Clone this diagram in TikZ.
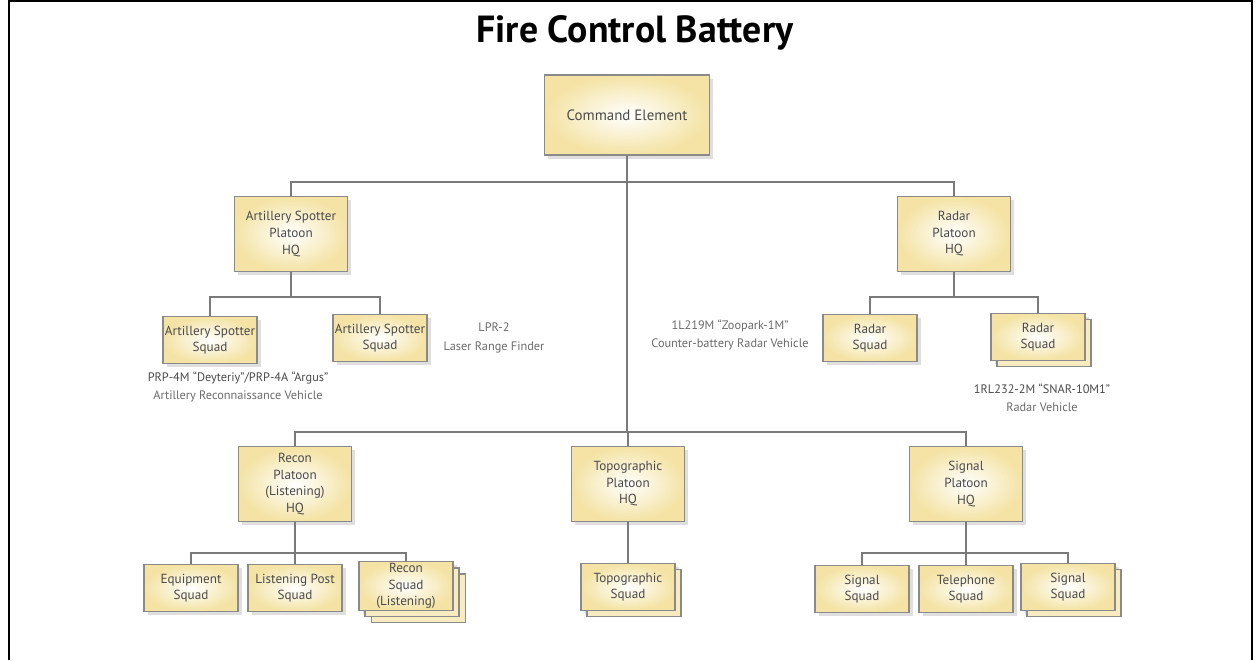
\documentclass[tikz,border=0pt]{standalone}
\usepackage{fontspec}
\setmainfont{PT Sans}
\usetikzlibrary{shadows}

\definecolor{boxfill}{HTML}{F4E3A4}
\definecolor{boxline}{HTML}{8A8A8A}
\definecolor{boxtext}{HTML}{4A4A4A}
\definecolor{linkgray}{HTML}{7A7A7A}
\definecolor{notegray}{HTML}{6A6A6A}

\tikzset{
  unit/.style={draw=boxline, line width=0.9pt, shading=radial, inner color=white,
    outer color=boxfill, text=boxtext, align=center,
    font=\fontsize{7.5}{9.4}\selectfont,
    drop shadow={opacity=0.25, shadow xshift=2pt, shadow yshift=-2pt}},
  hq/.style={unit, minimum width=2.26cm, minimum height=1.5cm},
  squad/.style={unit, minimum width=1.88cm, minimum height=0.94cm, inner sep=1pt},
  stack/.style={copy shadow={shadow xshift=3.5pt, shadow yshift=-3.5pt,
    fill=boxfill!70, draw=boxline, line width=0.9pt}},
  stacktwo/.style={copy shadow={shadow xshift=7pt, shadow yshift=-7pt,
    fill=boxfill!70, draw=boxline, line width=0.9pt}, stack},
  link/.style={draw=linkgray, line width=0.8pt},
  note/.style={align=center, text=notegray, font=\fontsize{7}{10.5}\selectfont}
}

\begin{document}
\begin{tikzpicture}[x=0.02cm, y=-0.02cm]
  \useasboundingbox (0,0) rectangle (1257,660);
  % frame and title
  \draw[line width=1.2pt] (9,660) -- (9,1) -- (1252,1) -- (1252,660);
  \node (title) at (635,33) {\fontsize{21.5}{25}\selectfont\bfseries Fire Control Battery};

  % command level
  \node[unit, minimum width=3.3cm, minimum height=1.6cm, font=\fontsize{8.5}{10}\selectfont]
    (cmd) at (627,115) {Command Element};

  % platoon HQs
  \node[hq] (art) at (291,234) {Artillery Spotter\\Platoon\\HQ};
  \node[hq] (radar) at (954,234) {Radar\\Platoon\\HQ};
  \node[hq] (recon) at (295,484) {Recon\\Platoon\\(Listening)\\HQ};
  \node[hq] (topo) at (628,484) {Topographic\\Platoon\\HQ};
  \node[hq] (signal) at (966,484) {Signal\\Platoon\\HQ};

  % squads
  \node[squad] (asqa) at (210,340) {Artillery Spotter\\Squad};
  \node[squad] (asqb) at (380,338) {Artillery Spotter\\Squad};
  \node[squad] (rsqa) at (870,338) {Radar\\Squad};
  \node[squad, stack] (rsqb) at (1038,337) {Radar\\Squad};
  \node[squad] (equip) at (191,588) {Equipment\\Squad};
  \node[squad] (lpost) at (295,588) {Listening Post\\Squad};
  \node[squad, stacktwo] (rcsq) at (406,586) {Recon\\Squad\\(Listening)};
  \node[squad, stack] (toposq) at (628,587) {Topographic\\Squad};
  \node[squad] (sigsqa) at (862,589) {Signal\\Squad};
  \node[squad] (telsq) at (966,589) {Telephone\\Squad};
  \node[squad, stack] (sigsqb) at (1068,587) {Signal\\Squad};

  % bus points
  \coordinate (topbus) at (627,182);
  \coordinate (artbus) at (291,297);
  \coordinate (radbus) at (954,297);
  \coordinate (botbus) at (627,432);
  \coordinate (reconbus) at (295,553);
  \coordinate (sigbus) at (966,553);

  % connectors
  \draw[link] (cmd.south) -- (botbus);
  \draw[link] (art.north) |- (topbus) -| (radar.north);
  \draw[link] (art.south) -- (artbus);
  \draw[link] (asqa.north) |- (artbus) -| (asqb.north);
  \draw[link] (radar.south) -- (radbus);
  \draw[link] (rsqa.north) |- (radbus) -| (rsqb.north);
  \draw[link] (recon.north) |- (botbus) -| (signal.north);
  \draw[link] (topo.north) -- (topo.north |- botbus);
  \draw[link] (topo.south) -- (toposq.north);
  \draw[link] (recon.south) -- (reconbus);
  \draw[link] (equip.north) |- (reconbus) -| (rcsq.north);
  \draw[link] (lpost.north) -- (reconbus);
  \draw[link] (signal.south) -- (sigbus);
  \draw[link] (sigsqa.north) |- (sigbus) -| (sigsqb.north);
  \draw[link] (telsq.north) -- (sigbus);

  % equipment notes
  \node[note] (lprnote) at (494,338) {LPR-2\\Laser Range Finder};
  \node[note] (prpnote) at (238,387) {\textcolor{boxtext}{PRP-4M “Deyteriy”/PRP-4A “Argus”}\\Artillery Reconnaissance Vehicle};
  \node[note] (zoonote) at (730,335) {1L219M “Zoopark-1M”\\Counter-battery Radar Vehicle};
  \node[note] (snarnote) at (1042,398) {\textcolor{boxtext}{1RL232-2M “SNAR-10M1”}\\Radar Vehicle};
\end{tikzpicture}
\end{document}
